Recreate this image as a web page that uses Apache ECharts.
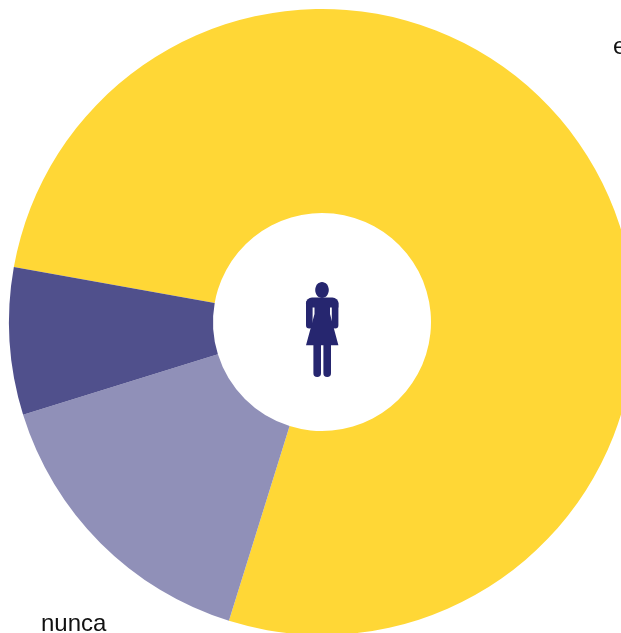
<!DOCTYPE html>
<html>
<head>
<meta charset="utf-8">
<style>html,body{margin:0;padding:0;background:#fff;overflow:hidden}#c{width:621px;height:633px}</style>
<script src="https://cdn.jsdelivr.net/npm/echarts@6/dist/echarts.min.js"></script>
</head>
<body>
<div id="c"></div>
<script>
const categories = ['e', 'nunca', ''];
const values = [77.0, 15.4, 7.6];
const colors = ['#FFD736', '#9090B8', '#50508C'];

const chart = echarts.init(document.getElementById('c'), null, {renderer: 'canvas', width: 621, height: 633});
const figure = '#26266F';
const part = (type, shape) => ({type, silent: true, z: 10, shape, style: {fill: figure}});
const label = (text, x, y) => ({type: 'text', silent: true, z: 10, x, y, style: {text, fill: '#111111', fontSize: 24, fontFamily: 'Liberation Sans', verticalAlign: 'middle'}});
chart.setOption({
  animation: false,
  backgroundColor: '#ffffff',
  textStyle: {fontFamily: 'Liberation Sans'},
  graphic: [
    part('ellipse', {cx: 322, cy: 290, rx: 6.8, ry: 8}),
    part('rect', {x: 306, y: 297.5, width: 32.4, height: 10, r: [6, 6, 0, 0]}),
    part('rect', {x: 306, y: 300, width: 6.6, height: 28.5, r: 3.3}),
    part('rect', {x: 331.8, y: 300, width: 6.6, height: 28.5, r: 3.3}),
    part('polygon', {points: [[314.5, 300], [330, 300], [330, 314], [338.4, 345.3], [306, 345.3], [314.5, 314]]}),
    part('rect', {x: 313.4, y: 340, width: 7.6, height: 37, r: [0, 0, 3.8, 3.8]}),
    part('rect', {x: 323.4, y: 340, width: 7.6, height: 37, r: [0, 0, 3.8, 3.8]}),
    label(categories[0], 613, 47),
    label(categories[1], 41, 624)
  ],
  series: [{
    type: 'pie',
    silent: true,
    z: 2,
    center: [322, 322],
    radius: [109, 313],
    startAngle: 169.9,
    clockwise: true,
    avoidLabelOverlap: false,
    itemStyle: {borderWidth: 0},
    label: {show: false},
    labelLine: {show: false},
    data: categories.map((name, i) => ({
      name,
      value: values[i],
      itemStyle: {color: colors[i]}
    }))
  }]
});
</script>
</body>
</html>
